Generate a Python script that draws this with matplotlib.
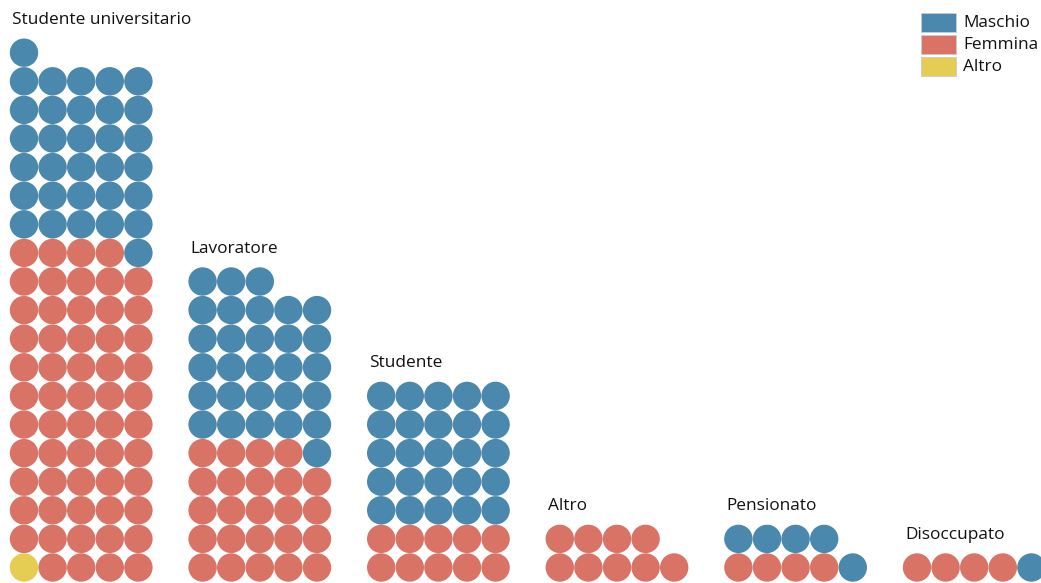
import matplotlib.pyplot as plt
from matplotlib.patches import Circle, Rectangle

# data: counts per occupation, split by gender
categories = ["Studente universitario", "Lavoratore", "Studente", "Altro", "Pensionato", "Disoccupato"]
altro = [1, 0, 0, 0, 0, 0]
femmina = [58, 24, 10, 9, 4, 4]
maschio = [32, 29, 25, 0, 5, 1]

legend_labels = ["Maschio", "Femmina", "Altro"]
colors = {"Maschio": "#4a88ad", "Femmina": "#d97366", "Altro": "#e5cc52"}

plt.rcParams['font.family'] = ['Open Sans', 'DejaVu Sans']

fig = plt.figure(figsize=(10.41, 5.83), dpi=100)
ax = fig.add_axes([0, 0, 1, 1])
ax.set_xlim(0, 1041)
ax.set_ylim(583, 0)
ax.axis('off')

per_row = 5
step = 28.6
radius = 14.2
group_gap = 178.6
x_start = 24
y_bottom = 567.5

for g, cat in enumerate(categories):
    # fill order: Altro, Femmina, Maschio (left to right, bottom to top)
    seq = ["Altro"] * altro[g] + ["Femmina"] * femmina[g] + ["Maschio"] * maschio[g]
    x0 = x_start + g * group_gap
    for i, key in enumerate(seq):
        row, col = divmod(i, per_row)
        ax.add_patch(Circle((x0 + col * step, y_bottom - row * step), radius,
                            facecolor=colors[key], edgecolor='none'))
    top_row = (len(seq) - 1) // per_row
    top_y = y_bottom - top_row * step
    ax.text(x0 - 12, top_y - 28.5, cat, fontsize=12.4, color='#111111',
            ha='left', va='baseline')

# legend
for k, lab in enumerate(legend_labels):
    y = 13 + k * 22
    ax.add_patch(Rectangle((921, y), 35, 19, facecolor=colors[lab],
                           edgecolor='#cccccc', linewidth=0.6))
    ax.text(963, y + 10, lab, fontsize=12.4, color='#111111', ha='left', va='center')

fig.savefig("out.png", dpi=100)
